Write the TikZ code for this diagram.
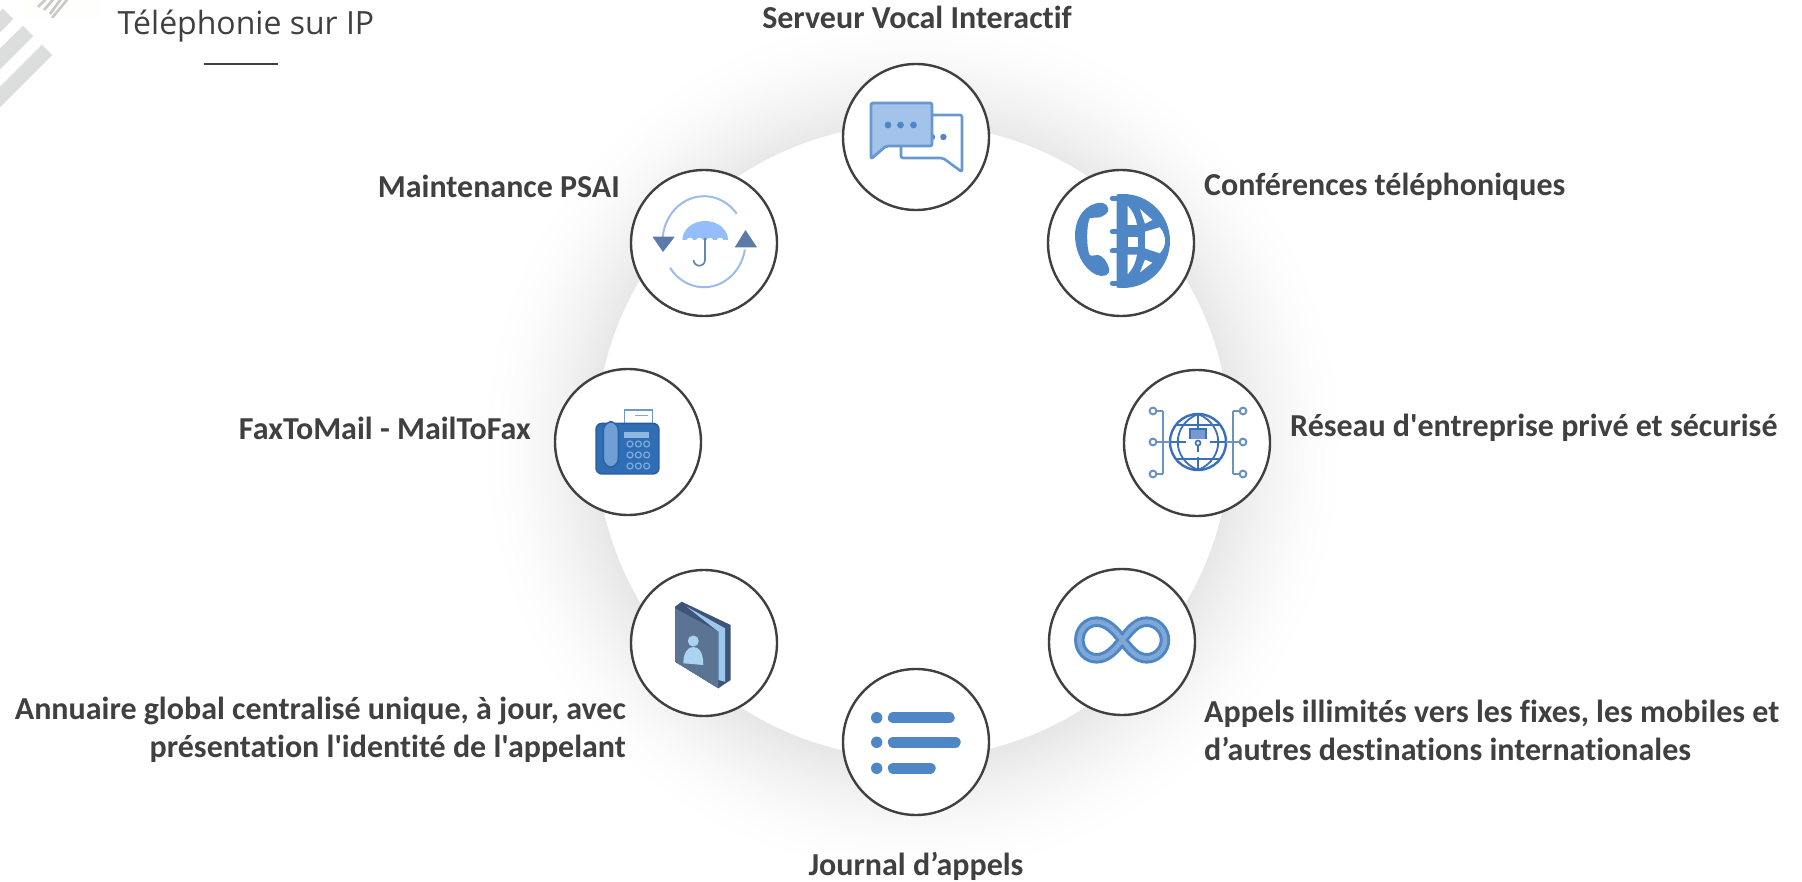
\documentclass[tikz,border=0pt]{standalone}
\usepackage{fontspec}
\newfontfamily\labfont{Carlito}[Ligatures=NoCommon]
\newfontfamily\titlefont{Open Sans}
\definecolor{ink}{HTML}{404040}
\definecolor{blu}{HTML}{4F86C6}
\definecolor{blul}{HTML}{A3C3EA}
\definecolor{blud}{HTML}{2F6DB5}
\definecolor{slate}{HTML}{5B7AA8}
\definecolor{sky}{HTML}{94BDFB}
\definecolor{stripe}{HTML}{DCDEDD}
\definecolor{hatch}{HTML}{C8C8C6}
\definecolor{cream}{HTML}{FEFEFC}
\definecolor{spine}{HTML}{3F5578}
\definecolor{pages}{HTML}{9CC8EF}
\definecolor{cover}{HTML}{5B7494}
\definecolor{person}{HTML}{A9D3F0}
\definecolor{faxl}{HTML}{6F9FD4}
\definecolor{faxs}{HTML}{8FB8E2}
\definecolor{faxk}{HTML}{7FAADB}
\definecolor{arcb}{HTML}{9BBCEA}
\definecolor{hand}{HTML}{6B85AD}
\definecolor{netline}{HTML}{6E92C0}
\definecolor{netglobe}{HTML}{3A6FBE}
\tikzset{
  x=1pt,y=-1pt,
  badge/.style={circle,draw=ink,fill=white,line width=2.4pt,minimum size=146pt,inner sep=0pt},
  lab/.style={font=\labfont\fontsize{32}{38}\selectfont\bfseries,text=ink,inner sep=0pt},
  labl/.style={lab,anchor=west,align=left},
  labr/.style={lab,anchor=east,align=right},
  zoomed/.style 2 args={shift={(#1,#2)},x=0.3333pt,y=-0.3333pt},
}
\begin{document}
\begin{tikzpicture}
\useasboundingbox (0,0) rectangle (1802,882);
\fill[white] (0,0) rectangle (1802,882);
% soft halo
\begin{scope}
\clip (0,0) rectangle (1802,882);
\foreach \d in {120,118,...,0}{
  \pgfmathsetmacro{\v}{9.5*(1-\d/120)^1.7}
  \fill[black!\v] (913,445) circle[radius=317+\d];
}
\end{scope}
\fill[white] (913,441) circle[radius=317];
% corner stripes
\fill[cream] (25,0) rectangle (100,18);
\begin{scope}
\clip (0,0) rectangle (120,120);
\draw[stripe,line width=14.6pt] (8,14) -- (-30,52);
\draw[stripe,line width=14.6pt] (28,31) -- (-30,89);
\draw[stripe,line width=14.6pt] (47,50) -- (-20,117);
\end{scope}
\begin{scope}
\clip (30,0) rectangle (80,18);
\draw[hatch,line width=2.6pt] (50,-5) -- (38,7) (57,-5) -- (44,10) (64,-5) -- (50,14) (71,-5) -- (52,18);
\end{scope}
% title
\node[font=\titlefont\fontsize{32}{36}\selectfont,text=ink,inner sep=0pt] (title) at (246,26) {Téléphonie sur IP};
\coordinate (ruleA) at (204,64.5);
\coordinate (ruleB) at (278,64.5);
\draw[ink,line width=2pt] (ruleA) -- (ruleB);
% badges
\node[badge] (n1) at (916,137) {};
\node[badge] (n2) at (1121,243) {};
\node[badge] (n3) at (1197,443) {};
\node[badge] (n4) at (1122,642) {};
\node[badge] (n5) at (916,742) {};
\node[badge] (n6) at (704,643) {};
\node[badge] (n7) at (628,442) {};
\node[badge] (n8) at (704,243) {};
% labels
\node[lab] (l1) at (917,17) {Serveur Vocal Interactif};
\node[labl] (l2) at (1204,187) {Conférences téléphoniques};
\node[labl] (l3) at (1290,428) {Réseau d'entreprise privé et sécurisé};
\node[labl] (l4) at (1204,730) {Appels illimités vers les fixes, les mobiles et\\d’autres destinations internationales};
\node[lab] (l5) at (916,866) {Journal d’appels};
\node[labr] (l6) at (626,730) {Annuaire global centralisé unique, à jour, avec\\présentation l'identité de l'appelant};
\node[labr] (l7) at (531,428) {FaxToMail - MailToFax};
\node[labr] (l8) at (620,186) {Maintenance PSAI};
% icon 1: chat
\draw[blu!85,line width=2.6pt,line join=round,rounded corners=2pt,fill=white] (901,115) -- (962,115) -- (962,172) -- (943,158) -- (901,158) -- cycle;
\fill[blu] (943.4,137) circle[radius=3.2] (932,137) circle[radius=3.2];
\draw[blu!85,line width=2.8pt,line join=round,rounded corners=2pt,fill=blul] (871,103) -- (932,103) -- (932,146) -- (886,146) -- (871,159) -- cycle;
\fill[blu] (888,125) circle[radius=3.4] (900.5,125) circle[radius=3.4] (913.5,125) circle[radius=3.4];
% icon 2: globe phone, in crop coordinates (3 units per pixel)
\begin{scope}[zoomed={1065}{185}]
\begin{scope}
\clip (155,0) rectangle (345,345);
\fill[blu] (174,168) circle[radius=141];
\end{scope}
\draw[blu,line width=5pt,line cap=round] (142,40) -- (185,40) (142,140) -- (190,140) (142,198) -- (190,198) (142,295) -- (185,295);
\fill[white] (225,72) -- (262,105) -- (240,116) -- cycle;
\fill[white] (188,62) .. controls (203,77) and (213,100) .. (216,120) -- (188,120) -- cycle;
\fill[white] (188,156) rectangle (220,186);
\fill[white] (240,140) -- (284,127) .. controls (296,141) and (300,155) .. (300,168) .. controls (300,180) and (296,193) .. (284,205) -- (240,190) -- cycle;
\fill[white] (188,209) -- (216,209) .. controls (213,230) and (203,253) .. (188,268) -- cycle;
\fill[white] (240,224) -- (262,233) -- (225,262) -- cycle;
\fill[blu] (130,72) .. controls (127,52) and (105,50) .. (90,56) .. controls (50,68) and (30,110) .. (30,150) .. controls (30,200) and (55,252) .. (95,270) .. controls (115,277) and (137,272) .. (132,250) .. controls (127,232) and (115,213) .. (100,210) .. controls (90,208) and (80,216) .. (74,210) .. controls (64,190) and (64,120) .. (74,100) .. controls (80,97) and (95,99) .. (105,97) .. controls (115,92) and (132,85) .. (130,72) -- cycle;
\end{scope}
% icon 3: network
\begin{scope}[netglobe,line width=1.8pt]
\draw[line width=2.4pt] (1198,442) circle[radius=28];
\draw (1198,414) -- (1198,470) (1170,442) -- (1226,442);
\draw (1198,414) .. controls (1171,425) and (1171,459) .. (1198,470);
\draw (1198,414) .. controls (1225,425) and (1225,459) .. (1198,470);
\draw (1176,425) -- (1220,425) (1176,459) -- (1220,459);
\fill[white] (1186,439) rectangle (1210,457);
\draw[line width=2.6pt,fill=netglobe!70] (1190,439) -- (1190,429) -- (1206,429) -- (1206,439);
\draw[line width=1.6pt] (1198,443) circle[radius=2.5] (1198,446) -- (1198,452);
\foreach \s in {1,-1}{
 \draw[netline,line width=2.4pt] (1198+\s*35,411) -- (1198+\s*35,474);
 \draw[netline] (1198+\s*35,411) -- (1198+\s*41,411) (1198+\s*35,474) -- (1198+\s*41,474) (1198+\s*28,442) -- (1198+\s*41,442);
 \draw[netline,line width=2pt,fill=white] (1198+\s*45,411) circle[radius=3.4] (1198+\s*45,442) circle[radius=3.4] (1198+\s*45,474) circle[radius=3.4];
}
\end{scope}
% icon 4: infinity
\begin{scope}[zoomed={1065}{605}]
\foreach \w/\c in {10.5/blu,4.5/blu!72!white}{
\draw[\c,line width=\w pt] (172,105) .. controls (150,75) and (125,50) .. (95,50) .. controls (65,50) and (43,75) .. (43,105) .. controls (43,135) and (65,160) .. (95,160) .. controls (125,160) and (150,135) .. (172,105) .. controls (195,75) and (215,50) .. (245,50) .. controls (275,50) and (300,75) .. (300,105) .. controls (300,135) and (275,160) .. (245,160) .. controls (215,160) and (195,135) .. (172,105) -- cycle;}
\end{scope}
% icon 5: list
\fill[blu] (876.7,717.7) circle[radius=5.7] (876.7,742.3) circle[radius=5.7] (876.7,768.3) circle[radius=5.7];
\draw[blu,line width=11.5pt,line cap=round] (893.5,717.7) -- (949,717.7) (893.5,742.3) -- (955,742.3) (893.5,768.3) -- (930,768.3);
% icon 6: book
\fill[spine] (675,606.7) -- (681.7,601.7) -- (730.7,625) -- (730.7,680) -- (718.3,688.3) -- (675,661.7) -- cycle;
\fill[pages] (686.7,606.7) -- (725,628.3) -- (725,681.7) -- (718.3,680) -- (718.3,631.7) -- cycle;
\fill[cover] (675,608.3) -- (718.3,631.7) -- (718.3,688.3) -- (675,661.7) -- cycle;
\fill[person] (693.3,641) circle[radius=5.5];
\fill[person] (683.3,663.3) .. controls (683.5,652) and (688,647) .. (693.3,647) .. controls (699,647) and (703.3,652) .. (703.3,665) -- cycle;
% icon 7: fax, in crop coordinates
\begin{scope}[zoomed={585}{400}]
\fill[white] (118,30) rectangle (202,72);
\draw[blud!70,line width=1.4pt] (118,72) -- (118,30) -- (202,30) -- (202,72);
\draw[blud!60,line width=1.6pt] (150,46) -- (190,46);
\draw[blud!85!black,line width=1.4pt,fill=blud,rounded corners=6pt] (33,70) rectangle (222,222);
\draw[blud!90!black,line width=1.4pt,fill=faxl,rounded corners=9pt] (55,65) rectangle (100,202);
\fill[faxs] (118,95) rectangle (192,115);
\foreach \i in {135,160,185}\foreach \j in {132,165,198}{
 \draw[faxk,line width=1.2pt] (\i,\j) circle[radius=9];}
\end{scope}
% icon 8: umbrella
\draw[arcb,line width=2pt] (704,241.7) ++(-38:41.5 and 45.5) arc[start angle=-38,end angle=-174,x radius=41.5,y radius=45.5];
\draw[arcb,line width=2pt] (704,241.7) ++(145:41.5 and 45.5) arc[start angle=145,end angle=10,x radius=41.5,y radius=45.5];
\fill[slate] (652.5,236.7) -- (674.7,236.7) -- (663,252) -- cycle;
\fill[slate] (734.8,247.3) -- (757,247.3) -- (745.5,230) -- cycle;
\fill[sky] (682.4,240) arc[start angle=180,end angle=360,x radius=22.8,y radius=19] -- cycle;
\fill[white] (690,241.5) circle[radius=3.8] (699.5,241.5) circle[radius=3.8] (710,241.5) circle[radius=3.8] (720,241.5) circle[radius=3.8];
\draw[hand,line width=1.7pt] (705,238) -- (705,260) arc[start angle=0,end angle=180,radius=5.7];
\end{tikzpicture}
\end{document}
